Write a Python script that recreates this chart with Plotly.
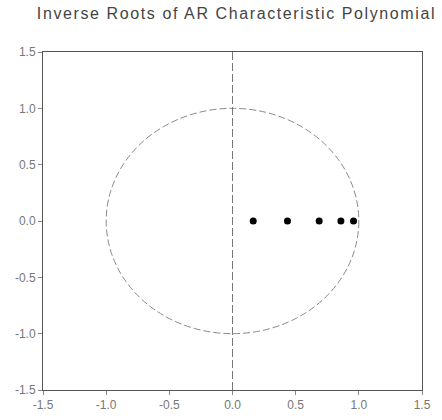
import plotly.graph_objects as go

# Inverse roots (real, imaginary)
root_re = [0.164, 0.435, 0.686, 0.858, 0.958]
root_im = [0.0, 0.0, 0.0, 0.0, 0.0]

tick_vals = [-1.5, -1.0, -0.5, 0.0, 0.5, 1.0, 1.5]
tick_text = ["-1.5", "-1.0", "-0.5", "0.0", "0.5", "1.0", "1.5"]
title_text = "Inverse Roots of AR Characteristic Polynomial"

fig = go.Figure()

fig.add_trace(go.Scatter(
    x=root_re, y=root_im, mode="markers",
    marker=dict(color="black", size=7),
    showlegend=False, hoverinfo="x+y",
))

# unit circle and imaginary axis reference line
fig.add_shape(type="circle", xref="x", yref="y", x0=-1, y0=-1, x1=1, y1=1,
              line=dict(color="#8a8a8a", width=1, dash="7px,3px"), layer="below")
fig.add_shape(type="line", xref="x", yref="y", x0=0, y0=-1.5, x1=0, y1=1.5,
              line=dict(color="#777777", width=1, dash="8px,3px"), layer="below")

axis_common = dict(
    range=[-1.5, 1.5], tickvals=tick_vals, ticktext=tick_text,
    showgrid=False, zeroline=False, showline=True, linecolor="#555555",
    linewidth=1, mirror=True, ticks="outside", ticklen=4, tickcolor="#888888",
    tickfont=dict(family="Arial, Liberation Sans, sans-serif", size=12, color="#777777"),
    fixedrange=True, automargin=False,
)

fig.update_layout(
    width=442, height=420,
    margin=dict(l=43, r=20, t=52, b=30, autoexpand=False),
    paper_bgcolor="white", plot_bgcolor="white",
    title=dict(text='<span style="letter-spacing:1.6px">' + title_text + '</span>',
               x=0.535, xanchor="center", y=0.967, yanchor="middle",
               font=dict(family="Arial, Liberation Sans, sans-serif", size=16, color="#444444")),
    xaxis=axis_common,
    yaxis=axis_common,
)

fig.write_html("out.html")
